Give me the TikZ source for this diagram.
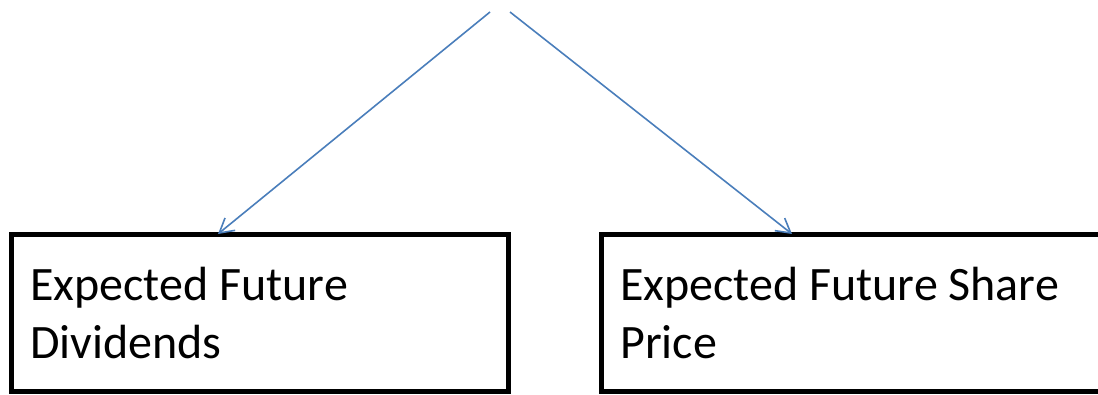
\documentclass[tikz,border=0pt]{standalone}
\usepackage{fontspec}
\setmainfont{Carlito}
\usetikzlibrary{arrows.meta}
\definecolor{linkblue}{HTML}{4A7EBB}
\tikzset{
  box/.style={draw=black, line width=5pt, rectangle, inner sep=0pt},
  boxtext/.style={anchor=base west, inner sep=0pt, font=\fontsize{48}{58}\selectfont, align=left},
  link/.style={draw=linkblue, line width=1.6pt, -{Straight Barb[length=14pt,width=16pt,line width=1.6pt]}}
}
\begin{document}
\begin{tikzpicture}[x=1pt,y=-1pt]
  \useasboundingbox (0,0) rectangle (1098,394);
  \clip (0,0) rectangle (1098,394);
  % boxes (the right one runs past the page edge)
  \node[box, minimum width=497pt, minimum height=157pt] (left) at (259.5,312.5) {};
  \node[box, minimum width=560pt, minimum height=157pt] (right) at (881,312.5) {};
  % labels
  \node[boxtext] (lt) at (30,300) {Expected Future};
  \node[boxtext] (lb) at (30,358) {Dividends};
  \node[boxtext] (rt) at (620,300) {Expected Future Share};
  \node[boxtext] (rb) at (620,358) {Price};
  % connectors
  \coordinate (s1) at (490,12);
  \coordinate (s2) at (510,12);
  \coordinate (e1) at (218,234);
  \coordinate (e2) at (792,234);
  \draw[link] (s1) -- (e1);
  \draw[link] (s2) -- (e2);
\end{tikzpicture}
\end{document}
